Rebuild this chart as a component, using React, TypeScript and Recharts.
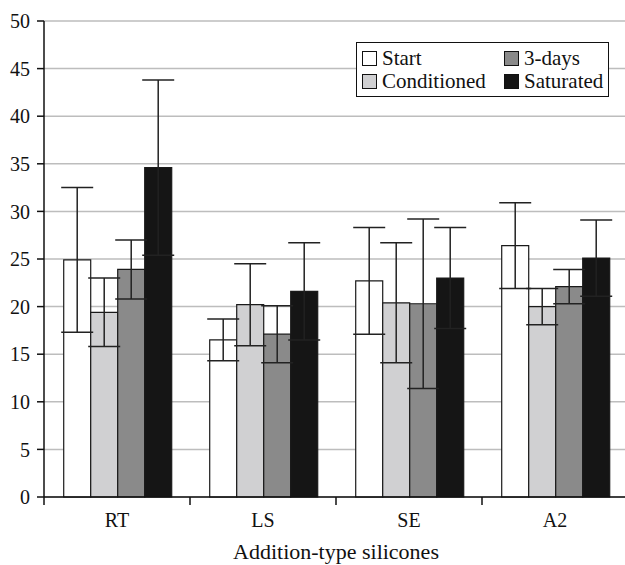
import { BarChart, Bar, XAxis, YAxis, CartesianGrid, ErrorBar, Legend } from 'recharts'

const categories = ['RT', 'LS', 'SE', 'A2']
const start = [24.9, 16.5, 22.7, 26.4]
const startErr = [7.6, 2.2, 5.6, 4.5]
const conditioned = [19.4, 20.2, 20.4, 20.0]
const conditionedErr = [3.6, 4.3, 6.3, 1.9]
const threeDays = [23.9, 17.1, 20.3, 22.1]
const threeDaysErr = [3.1, 3.0, 8.9, 1.8]
const saturated = [34.6, 21.6, 23.0, 25.1]
const saturatedErr = [9.2, 5.1, 5.3, 4.0]
const yTicks = [0, 5, 10, 15, 20, 25, 30, 35, 40, 45, 50]

const series = [
  { key: 'start', name: 'Start', color: '#ffffff' },
  { key: 'conditioned', name: 'Conditioned', color: '#d0d0d2' },
  { key: 'threeDays', name: '3-days', color: '#8a8a8a' },
  { key: 'saturated', name: 'Saturated', color: '#151515' },
]

const data = categories.map((c, i) => ({
  name: c,
  start: start[i],
  startErr: startErr[i],
  conditioned: conditioned[i],
  conditionedErr: conditionedErr[i],
  threeDays: threeDays[i],
  threeDaysErr: threeDaysErr[i],
  saturated: saturated[i],
  saturatedErr: saturatedErr[i],
}))

const FONT = 'Liberation Serif, DejaVu Serif, serif'
const W = 628
const H = 565
const LEFT = 44
const BAND = (W - LEFT) / categories.length

function CategoryTick({ x, y, payload }: any) {
  const edge = x - BAND / 2
  return (
    <g>
      <line x1={edge} y1={y} x2={edge} y2={y + 8} stroke="#111" strokeWidth={1.5} />
      <text x={x} y={y + 30} textAnchor="middle" fontSize={20} fill="#111" style={{ fontFamily: FONT }}>
        {payload.value}
      </text>
    </g>
  )
}

function LegendBox() {
  const order = [series[0], series[2], series[1], series[3]]
  return (
    <div
      style={{
        border: '1.5px solid #111',
        background: '#fff',
        padding: '4px 4px 3px 5px',
        display: 'grid',
        gridTemplateColumns: '142px auto',
        fontFamily: FONT,
        fontSize: 21,
        lineHeight: '23px',
        color: '#111',
      }}
    >
      {order.map((s) => (
        <div key={s.key} style={{ display: 'flex', alignItems: 'center', whiteSpace: 'nowrap' }}>
          <span
            style={{
              display: 'inline-block',
              width: 13,
              height: 13,
              background: s.color,
              border: '1px solid #111',
              marginRight: 5,
            }}
          />
          {s.name}
        </div>
      ))}
    </div>
  )
}

export default function App() {
  return (
    <div style={{ position: 'absolute', left: 0, top: 0, width: 625, height: H, overflow: 'hidden', background: '#fff', fontFamily: FONT }}>
      <BarChart
        width={W}
        height={H}
        data={data}
        margin={{ top: 21, right: 0, bottom: 0, left: 0 }}
        barCategoryGap="13.5%"
        barGap={0}
        style={{ fontFamily: FONT }}
      >
        <CartesianGrid vertical={false} stroke="#bdbdbd" strokeWidth={1.5} />
        <XAxis
          dataKey="name"
          height={68}
          stroke="#111"
          strokeWidth={1.5}
          tickLine={false}
          tickSize={0}
          tickMargin={0}
          tick={<CategoryTick />}
          interval={0}
          label={{ value: 'Addition-type silicones', position: 'insideBottom', offset: 6, fill: '#111', fontSize: 22, style: { fontFamily: FONT } }}
        />
        <YAxis
          width={LEFT}
          domain={[0, 50]}
          ticks={yTicks}
          interval={0}
          stroke="#111"
          strokeWidth={1.5}
          tickSize={7}
          tickMargin={7}
          tick={{ fill: '#111', fontSize: 20, style: { fontFamily: FONT } }}
        />
        <Legend
          layout="horizontal"
          verticalAlign="middle"
          content={<LegendBox />}
          wrapperStyle={{ position: 'absolute', top: 42, left: 356, width: 253 }}
        />
        {series.map((s) => (
          <Bar key={s.key} dataKey={s.key} name={s.name} fill={s.color} stroke="#1a1a1a" strokeWidth={1.2} isAnimationActive={false}>
            <ErrorBar dataKey={`${s.key}Err`} width={16} stroke="#222" strokeWidth={1.5} />
          </Bar>
        ))}
      </BarChart>
    </div>
  )
}
